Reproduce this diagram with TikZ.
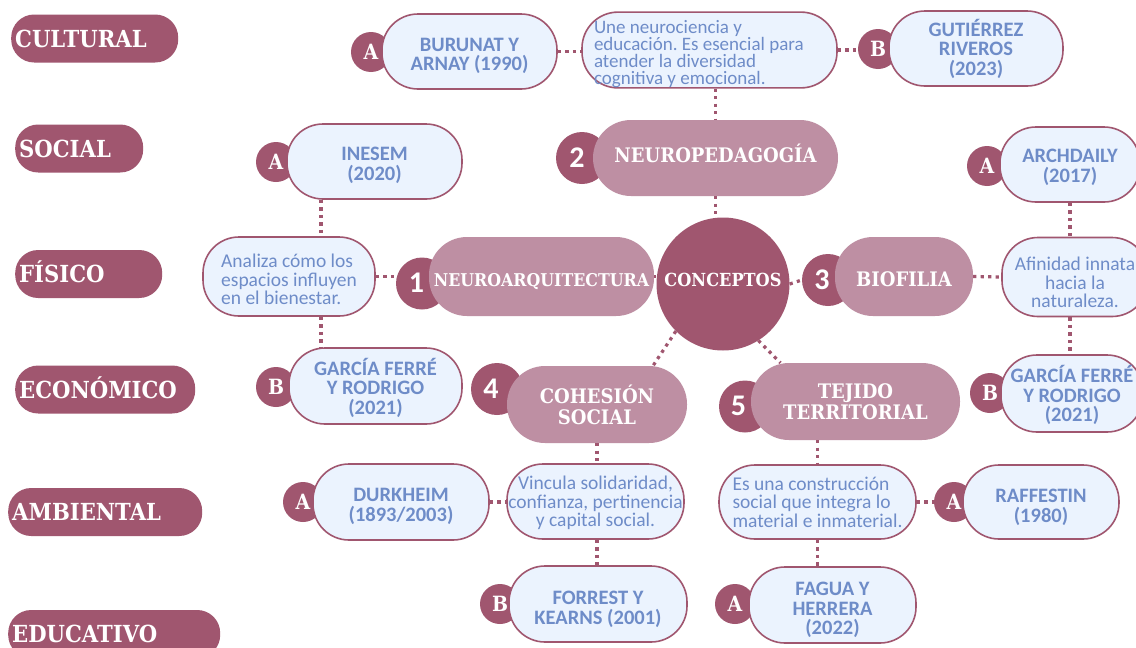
\documentclass[tikz,border=0pt]{standalone}
\usepackage{fontspec}
\setmainfont{Carlito}
\newfontfamily\slab[FakeStretch=0.9]{DejaVu Serif}
\usetikzlibrary{calc}
\definecolor{mar}{HTML}{A0566F}
\definecolor{pk}{HTML}{BE8FA3}
\definecolor{lb}{HTML}{EBF3FE}
\definecolor{bt}{HTML}{6E8CC8}
\newcommand{\lift}[1]{\rule{0pt}{#1}}
\tikzset{
  cat/.style={rectangle, rounded corners=23pt, fill=mar, text=white, minimum height=48pt,
    inner xsep=4pt, inner ysep=0pt, align=left, anchor=west, text height=17pt, text depth=0pt,
    font=\slab\bfseries\fontsize{23.5}{24}\selectfont},
  numc/.style={circle, fill=mar, text=white, minimum size=52pt, inner sep=0pt,
    text height=18.3pt, text depth=0pt, font=\bfseries\fontsize{30}{30}\selectfont},
  abc/.style={circle, fill=mar, text=white, minimum size=40pt, inner sep=0pt,
    text height=15.3pt, text depth=0pt, font=\slab\bfseries\fontsize{21}{21}\selectfont},
  mpill/.style={rectangle, rounded corners=38pt, fill=pk, text=white, inner sep=0pt, align=center,
    font=\slab\bfseries\fontsize{20}{21}\selectfont},
  refbox/.style={rectangle, rounded corners=36pt, draw=mar, line width=1.6pt, fill=lb, text=bt,
    inner sep=0pt, minimum height=75pt, align=center, font=\bfseries\fontsize{20.5}{19.5}\selectfont},
  descbox/.style={refbox, font=\fontsize{19.5}{18.5}\selectfont},
  conn/.style={draw=mar, line width=3.2pt, dash pattern=on 3.2pt off 4.3pt},
}
\begin{document}
\frenchspacing
\begin{tikzpicture}[x=1pt,y=-1pt]
\fill[white] (0,0) rectangle (1136,648);
\useasboundingbox (0,0) rectangle (1136,648);

% category labels
\node[cat, text width=159pt] (cultural)  at (11,38.5) {CULTURAL};
\node[cat, text width=120pt] (social)    at (15,148.5) {SOCIAL};
\node[cat, text width=139pt] (fisico)    at (15,274) {FÍSICO};
\node[cat, text width=172pt] (economico) at (15,389.5) {ECONÓMICO};
\node[cat, text width=186pt] (ambiental) at (8,512) {AMBIENTAL};
\node[cat, text width=204pt] (educativo) at (8,634) {EDUCATIVO};

% central concept
\node[circle, fill=mar, minimum size=133pt, inner sep=0pt, text=white, text height=5pt, text depth=0pt,
      font=\slab\bfseries\fontsize{18}{18}\selectfont] (concept) at (723,284) {CONCEPTOS};

% number circles
\node[numc] (n1) at (422,283.5) {\hspace*{-11pt}1};
\node[numc] (n2) at (582,158)   {\hspace*{-10pt}2};
\node[numc] (n3) at (828,280)   {\hspace*{-12pt}3};
\node[numc] (n4) at (497,389)   {\hspace*{-12pt}4};
\node[numc] (n5) at (745,406.5) {\hspace*{-13pt}5};

% concept pills
\node[mpill, text height=20pt, text depth=0pt, minimum width=225pt, minimum height=79pt,
      font=\slab\bfseries\fontsize{17.6}{18}\selectfont] (neuroarq) at (541.5,276.5) {NEUROARQUITECTURA};
\node[mpill, text height=8.6pt, text depth=0pt, minimum width=245pt, minimum height=76pt] (neuroped) at (715.5,158) {NEUROPEDAGOGÍA};
\node[mpill, text height=19pt, text depth=0pt, minimum width=138pt, minimum height=79pt] (biofilia) at (904,276.5) {BIOFILIA};
\node[mpill, minimum width=180pt, minimum height=77pt] (cohesion) at (597,404.5) {COHESIÓN\\SOCIAL};
\node[mpill, minimum width=209pt, minimum height=77pt] (tejido) at (855.5,401.5) {TEJIDO\\TERRITORIAL};

% letter circles
\node[abc] (aBur)  at (371,52)  {A};
\node[abc] (bGut)  at (878,49)  {B};
\node[abc] (aIne)  at (276,162) {A};
\node[abc] (bGar1) at (276,387) {B};
\node[abc] (aArch) at (987,166) {A};
\node[abc] (bGar2) at (990,393) {B};
\node[abc] (aDur)  at (303,502) {A};
\node[abc] (bFor)  at (500,604) {B};
\node[abc] (aRaf)  at (954,502) {A};
\node[abc] (aFag)  at (735,604) {A};

% reference and description boxes
\node[refbox, minimum width=175pt] (burunat) at (469.5,51.5) {\lift{22pt}BURUNAT Y\\ARNAY (1990)};
\node[descbox, minimum width=255pt, minimum height=74pt, text width=231pt, align=flush left,
      font=\fontsize{19}{17}\selectfont] (une) at (709.5,50)
      {\lift{21.5pt}Une neurociencia y\\educación. Es esencial para\\atender la diversidad\\cognitiva y emocional.};
\node[refbox, minimum width=174pt] (gutierrez) at (976,48.5) {GUTIÉRREZ\\RIVEROS\\(2023)};
\node[refbox, minimum width=175pt] (inesem) at (374.5,161.5) {\lift{21pt}INESEM\\(2020)};
\node[descbox, minimum width=172pt, minimum height=79pt, align=left] (analiza) at (289,276.5)
      {\lift{20pt}Analiza cómo los\\espacios influyen\\en el bienestar.};
\node[refbox, minimum width=173pt, minimum height=76pt] (garcia1) at (375.5,386) {\lift{21pt}GARCÍA FERRÉ\\Y RODRIGO\\(2021)};
\node[refbox, minimum width=140pt] (archdaily) at (1070,164.5) {\lift{19pt}ARCHDAILY\\(2017)};
\node[descbox, minimum width=146pt, minimum height=79pt] (afinidad) at (1075,277) {\lift{25pt}Afinidad innata\\hacia la\\naturaleza.};
\node[refbox, minimum width=142pt, minimum height=77pt] (garcia2) at (1072,393.5) {\lift{21pt}GARCÍA FERRÉ\\Y RODRIGO\\(2021)};
\node[refbox, minimum width=176pt, minimum height=76pt] (durkheim) at (401,502) {\lift{22pt}DURKHEIM\\(1893/2003)};
\node[descbox, minimum width=177pt] (vincula) at (595.5,501.5) {\lift{17pt}Vincula solidaridad,\\confianza, pertinencia\\y capital social.};
\node[refbox, minimum width=178pt, minimum height=76pt] (forrest) at (598,604) {\lift{24pt}FORREST Y\\KEARNS (2001)};
\node[descbox, minimum width=197pt, minimum height=74pt, align=left] (esuna) at (817.5,502)
      {Es una construcción\\social que integra lo\\material e inmaterial.};
\node[refbox, minimum width=156pt, minimum height=74pt] (raffestin) at (1041,502) {\lift{24pt}RAFFESTIN\\(1980)};
\node[refbox, minimum width=167pt, minimum height=76pt] (fagua) at (832.5,605) {\lift{24pt}FAGUA Y\\HERRERA\\(2022)};

% helper coordinate for the left column of connectors
\coordinate (xl) at (321,0);

% connectors
\path[conn] (burunat.east) -- (une.west |- burunat.east);
\path[conn] (une.east) -- (bGut.west |- une.east);
\path[conn] (une.south -| neuroped.north) -- (neuroped.north);
\path[conn] (neuroped.south) -- (neuroped.south |- concept.north);
\path[conn] (neuroarq.east) -- (concept.west |- neuroarq.east);
\path[conn] (concept.east) -- (n3.west);
\path[conn] (biofilia.east) -- (afinidad.west);
\path[conn] (archdaily.south) -- (archdaily.south |- afinidad.north);
\path[conn] (afinidad.south -| archdaily.south) -- (garcia2.north -| archdaily.south);
\path[conn] (analiza.east) -- (n1.west |- analiza.east);
\path[conn] (inesem.south -| xl) -- (analiza.north -| xl);
\path[conn] (analiza.south -| xl) -- (garcia1.north -| xl);
\path[conn] (concept.-135) -- ($(cohesion.north)+(56,0)$);
\path[conn] (concept.-58) -- ($(tejido.north)+(-75,0)$);
\path[conn] (cohesion.south) -- (cohesion.south |- vincula.north);
\path[conn] (vincula.south -| cohesion.south) -- (forrest.north -| cohesion.south);
\path[conn] (durkheim.east) -- (vincula.west |- durkheim.east);
\path[conn] (esuna.north |- tejido.south) -- (esuna.north);
\path[conn] (esuna.east) -- (aRaf.west |- esuna.east);
\path[conn] (esuna.south) -- (esuna.south |- fagua.north);
\end{tikzpicture}
\end{document}
